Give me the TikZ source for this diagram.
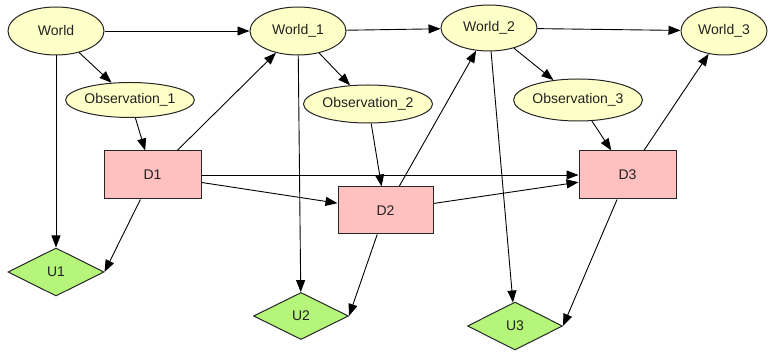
\documentclass[tikz,border=0pt]{standalone}
\usepackage{fontspec}
\setmainfont{Liberation Sans}
\usetikzlibrary{shapes.geometric,arrows.meta}
\definecolor{ellfill}{HTML}{FFFFC8}
\definecolor{recfill}{HTML}{FFC0C0}
\definecolor{diafill}{HTML}{B4F57A}
\definecolor{txt}{HTML}{222222}
\tikzset{
  base/.style={draw=black!85, line width=1pt, inner sep=0pt, text=txt, font=\fontsize{14}{16}\selectfont},
  chance/.style={base, ellipse, fill=ellfill},
  decision/.style={base, rectangle, fill=recfill, minimum width=97pt, minimum height=48pt},
  utility/.style={base, diamond, fill=diafill, shape aspect=2, minimum width=96pt, minimum height=48pt},
  edge/.style={draw=black, line width=0.9pt, -{Triangle[length=12pt,width=9pt]}}
}
\begin{document}
\begin{tikzpicture}[x=1pt,y=-1pt]
\useasboundingbox (0,0) rectangle (768,352);
% chance nodes
\node[chance, minimum width=96pt, minimum height=48pt] (W0) at (56,31) {World};
\node[chance, minimum width=96pt, minimum height=48pt] (W1) at (298,31) {World\_1};
\node[chance, minimum width=96pt, minimum height=46pt] (W2) at (489,28) {World\_2};
\node[chance, minimum width=86pt, minimum height=48pt] (W3) at (724,31) {World\_3};
\node[chance, minimum width=120pt, minimum height=35pt] (O1) at (130,100) {Observation\_1};
\node[chance, minimum width=129pt, minimum height=38pt] (O2) at (368,104) {Observation\_2};
\node[chance, minimum width=119pt, minimum height=42pt] (O3) at (578,100) {Observation\_3};
% decision nodes
\node[decision] (D1) at (152.5,175) {D1};
\node[decision, minimum width=95pt, minimum height=47pt] (D2) at (385.5,210.5) {D2};
\node[decision] (D3) at (627.5,175) {D3};
% utility nodes
\node[utility] (U1) at (56,272) {U1};
\node[utility, minimum width=95pt, minimum height=47pt] (U2) at (301,316) {U2};
\node[utility, minimum width=95pt] (U3) at (515,326) {U3};
% edges
\draw[edge] (W0) -- (W1);
\draw[edge] (W1) -- (W2);
\draw[edge] (W2) -- (W3);
\draw[edge] (W0) -- (O1);
\draw[edge] (W1) -- (O2);
\draw[edge] (W2) -- (O3);
\draw[edge] (O1) -- (D1);
\draw[edge] (O2) -- (D2);
\draw[edge] (O3) -- (D3);
\draw[edge] (W0) -- (U1);
\draw[edge] (W1) -- (U2);
\draw[edge] (W2) -- (U3);
\draw[edge] (D1) -- (W1);
\draw[edge] (D2) -- (W2);
\draw[edge] (D3) -- (W3);
\draw[edge] (D1) -- (D3);
\draw[edge] (D1) -- (D2);
\draw[edge] (D2) -- (D3);
\draw[edge] (D1) -- (U1.east);
\draw[edge] (D2) -- (U2.east);
\draw[edge] (D3) -- (U3.east);
\end{tikzpicture}
\end{document}
